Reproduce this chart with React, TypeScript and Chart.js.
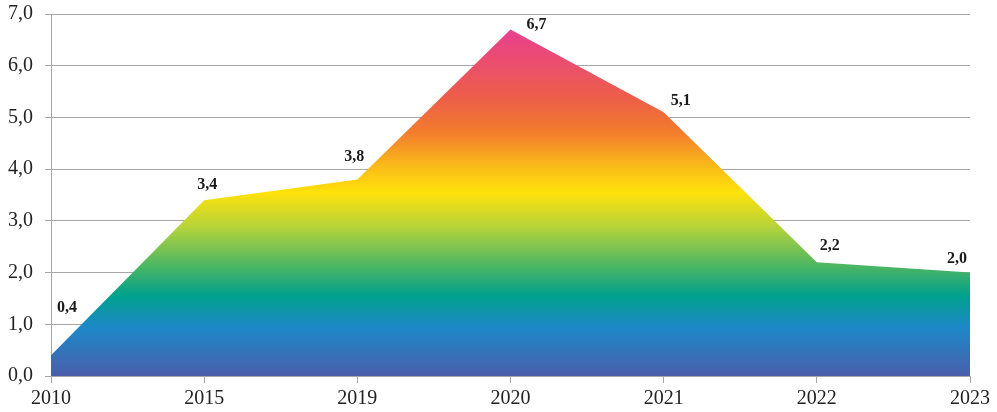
import React, { useEffect, useRef } from "react";
import { Chart, registerables } from "chart.js";

Chart.register(...registerables);

const years = ["2010", "2015", "2019", "2020", "2021", "2022", "2023"];
const values = [0.4, 3.4, 3.8, 6.7, 5.1, 2.2, 2.0];
const yTicks = [0, 1, 2, 3, 4, 5, 6, 7];

const gradientStops: [number, string][] = [
  [0, "#4a5eab"],
  [0.14, "#1d88c8"],
  [0.23, "#00a08e"],
  [0.31, "#45b466"],
  [0.43, "#b5d33a"],
  [0.53, "#ffe20a"],
  [0.62, "#f9b21c"],
  [0.7, "#f37e2c"],
  [0.8, "#ed5e48"],
  [1, "#e8408f"],
];

const labelOffsets: [number, number][] = [
  [16, -47],
  [3, -15],
  [-3, -23],
  [26, -5],
  [17, -11],
  [13, -16],
  [-13, -14],
];

const fmt = (v: number) => v.toFixed(1).replace(".", ",");
const serif = "'Liberation Serif', 'Times New Roman', serif";

const labelPlugin = {
  id: "valueLabels",
  afterDatasetsDraw(chart: any) {
    const ctx = chart.ctx;
    const meta = chart.getDatasetMeta(0);
    ctx.save();
    ctx.font = "bold 16px " + serif;
    ctx.fillStyle = "#1a1a1a";
    ctx.textAlign = "center";
    ctx.textBaseline = "middle";
    meta.data.forEach((pt: any, i: number) => {
      const [dx, dy] = labelOffsets[i];
      ctx.fillText(fmt(values[i]), pt.x + dx, pt.y + dy);
    });
    ctx.restore();
  },
};

export default function App() {
  const ref = useRef<HTMLCanvasElement>(null);
  useEffect(() => {
    if (!ref.current) return;
    const chart = new Chart(ref.current, {
      type: "line",
      data: {
        labels: years,
        datasets: [
          {
            data: values,
            fill: "origin",
            borderWidth: 0,
            pointRadius: 0,
            tension: 0,
            backgroundColor: (c: any) => {
              const ch = c.chart;
              const y = ch.scales.y;
              if (!ch.chartArea || !y) return "#00a08e";
              const g = ch.ctx.createLinearGradient(
                0,
                y.getPixelForValue(0),
                0,
                y.getPixelForValue(6.7)
              );
              gradientStops.forEach(([o, col]) => g.addColorStop(o, col));
              return g;
            },
          },
        ],
      },
      options: {
        animation: false,
        responsive: true,
        maintainAspectRatio: false,
        layout: { padding: { top: 14, right: 27, left: 0, bottom: 0 } },
        plugins: { legend: { display: false }, tooltip: { enabled: false } },
        scales: {
          x: {
            offset: false,
            grid: {
              display: true,
              drawOnChartArea: false,
              drawTicks: true,
              tickLength: 7,
              color: "#a6a6a6",
            },
            border: { color: "#a6a6a6", width: 1 },
            ticks: {
              color: "#222",
              font: { family: serif, size: 20 },
              padding: 4,
              maxRotation: 0,
            },
            afterFit: (s: any) => {
              s.height = 36;
              s.paddingLeft = 0;
              s.paddingRight = 0;
            },
          },
          y: {
            min: 0,
            max: 7,
            afterBuildTicks: (s: any) => {
              s.ticks = yTicks.map((v) => ({ value: v }));
            },
            grid: {
              color: "#a6a6a6",
              tickLength: 6,
              drawTicks: true,
            },
            border: { color: "#a6a6a6", width: 1 },
            ticks: {
              color: "#222",
              font: { family: serif, size: 20 },
              padding: 12,
              callback: (v: any) => fmt(Number(v)),
            },
            afterFit: (s: any) => {
              s.width = 51;
              s.paddingTop = 0;
              s.paddingBottom = 0;
            },
          },
        },
      },
      plugins: [labelPlugin],
    });
    return () => chart.destroy();
  }, []);
  return (
    <div style={{ position: "absolute", left: 0, top: 0, width: 997, height: 412 }}>
      <canvas ref={ref} />
    </div>
  );
}
